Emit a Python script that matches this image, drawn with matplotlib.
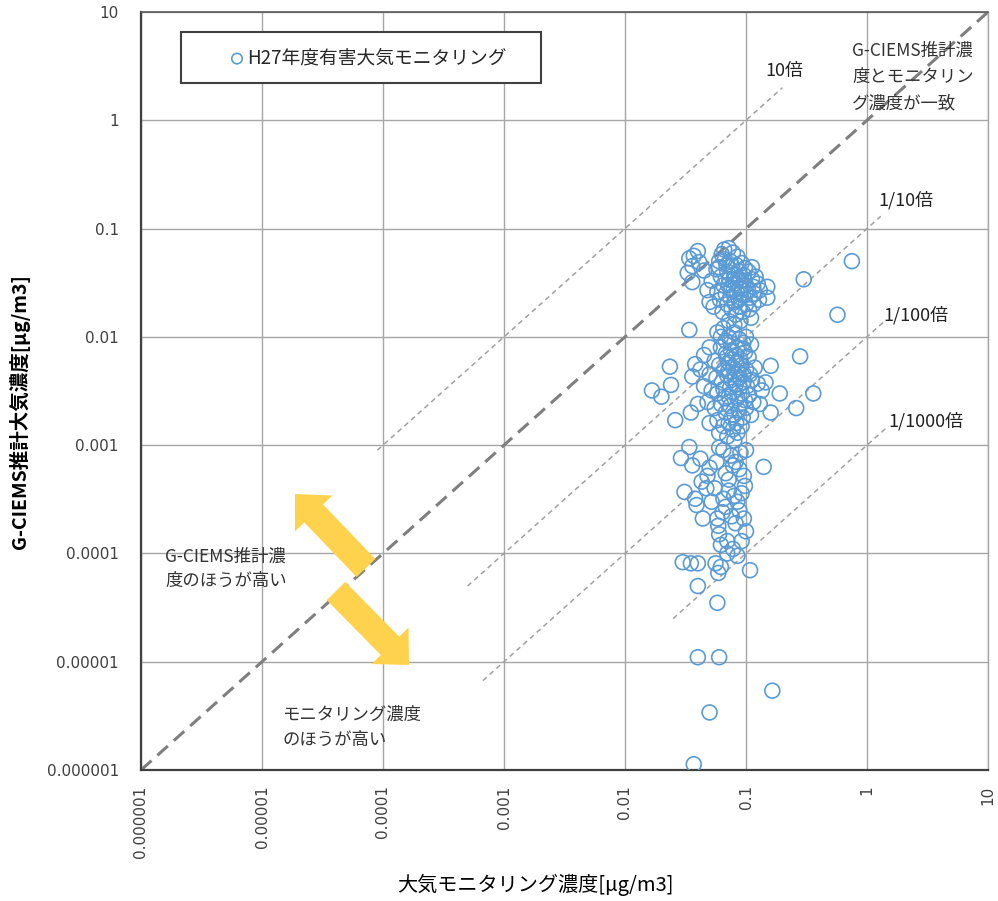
import matplotlib
matplotlib.use('Agg')
import matplotlib.pyplot as plt
from matplotlib.patches import FancyArrow, Rectangle
from matplotlib.transforms import IdentityTransform

# ---------------- data ----------------
top_cluster = [
    (0.034,0.053),(0.037,0.056),(0.040,0.062),(0.036,0.045),(0.033,0.039),(0.036,0.032),
    (0.041,0.049),(0.045,0.041),(0.048,0.027),(0.050,0.021),(0.054,0.019),(0.052,0.033),
    (0.057,0.042),(0.060,0.050),(0.063,0.058),(0.066,0.064),(0.072,0.066),(0.078,0.060),
    (0.085,0.055),(0.092,0.048),(0.098,0.043),(0.105,0.040),(0.062,0.036),(0.065,0.030),
    (0.068,0.025),(0.070,0.040),(0.073,0.034),(0.075,0.028),(0.077,0.045),(0.080,0.038),
    (0.082,0.031),(0.084,0.026),(0.087,0.022),(0.090,0.033),(0.093,0.028),(0.095,0.024),
    (0.100,0.030),(0.104,0.027),(0.108,0.023),(0.112,0.034),(0.115,0.029),(0.118,0.025),
    (0.070,0.020),(0.076,0.018),(0.082,0.016),(0.088,0.019),(0.094,0.017),(0.100,0.020),
    (0.106,0.018),(0.110,0.015),(0.072,0.014),(0.080,0.013),(0.090,0.014),(0.150,0.029),
    (0.150,0.023),(0.112,0.044),(0.30,0.034),(0.57,0.016),(0.75,0.050),(0.034,0.0116),
    (0.060,0.044),(0.067,0.052),(0.074,0.050),(0.083,0.046),(0.088,0.040),(0.096,0.037),
    (0.058,0.026),(0.061,0.022),(0.064,0.017),(0.120,0.036),(0.125,0.031),(0.130,0.027),
    (0.115,0.020),(0.128,0.022),(0.071,0.030),(0.079,0.027),(0.086,0.035),(0.091,0.025),
    (0.074,0.023),(0.081,0.021),(0.097,0.033),(0.069,0.046),(0.089,0.029),(0.078,0.033),
]
middle_cluster = [
    (0.058,0.011),(0.065,0.012),(0.072,0.010),(0.080,0.011),(0.088,0.0095),(0.095,0.0088),
    (0.100,0.0100),(0.110,0.0085),(0.062,0.0080),(0.068,0.0070),(0.075,0.0075),(0.083,0.0068),
    (0.090,0.0062),(0.098,0.0072),(0.105,0.0065),(0.055,0.0060),(0.060,0.0055),(0.066,0.0050),
    (0.072,0.0058),(0.078,0.0052),(0.085,0.0048),(0.092,0.0055),(0.100,0.0050),(0.108,0.0045),
    (0.118,0.0052),(0.050,0.0045),(0.057,0.0042),(0.063,0.0038),(0.070,0.0044),(0.076,0.0040),
    (0.082,0.0036),(0.088,0.0042),(0.095,0.0038),(0.102,0.0035),(0.112,0.0040),(0.125,0.0037),
    (0.135,0.0032),(0.045,0.0035),(0.052,0.0032),(0.058,0.0030),(0.065,0.0033),(0.072,0.0028),
    (0.078,0.0031),(0.085,0.0027),(0.092,0.0030),(0.098,0.0026),(0.106,0.0029),(0.115,0.0025),
    (0.048,0.0025),(0.055,0.0022),(0.062,0.0024),(0.068,0.0020),(0.074,0.0023),(0.080,0.0019),
    (0.087,0.0021),(0.094,0.0018),(0.100,0.0022),(0.110,0.0019),(0.058,0.0017),(0.065,0.0015),
    (0.072,0.0016),(0.078,0.0014),(0.085,0.0013),(0.092,0.0015),(0.070,0.0012),(0.080,0.0011),
    (0.060,0.0013),(0.050,0.0016),(0.28,0.0066),(0.16,0.0054),(0.0235,0.0053),(0.0167,0.0032),
    (0.020,0.0028),(0.024,0.0036),(0.036,0.0043),(0.042,0.0050),(0.026,0.0017),(0.035,0.0020),
    (0.040,0.0024),(0.36,0.0030),(0.26,0.0022),(0.16,0.0020),(0.19,0.0030),(0.145,0.0038),
    (0.13,0.0024),(0.038,0.0056),(0.045,0.0068),(0.050,0.0080),(0.068,0.0092),(0.062,0.0100),
    (0.075,0.0088),(0.085,0.0080),(0.095,0.0078),(0.077,0.0062),(0.083,0.0057),(0.069,0.0065),
    (0.089,0.0034),(0.074,0.0034),(0.081,0.0045),(0.067,0.0027),(0.076,0.0018),(0.090,0.0024),
    (0.083,0.0016),(0.071,0.0048),(0.096,0.0045),
]
lower_cluster = [
    (0.029,7.6e-4),(0.034,9.6e-4),(0.036,6.5e-4),(0.042,7.5e-4),(0.050,6.2e-4),(0.031,3.7e-4),
    (0.038,3.2e-4),(0.039,2.8e-4),(0.044,2.1e-4),(0.043,4.6e-4),(0.047,4.0e-4),(0.055,4.0e-4),
    (0.058,2.1e-4),(0.059,1.8e-4),(0.060,1.5e-4),(0.064,2.4e-4),(0.068,2.7e-4),(0.070,1.3e-4),
    (0.096,2.1e-4),(0.100,1.6e-4),(0.098,4.2e-4),(0.096,5.2e-4),(0.14,6.3e-4),(0.090,8.5e-4),
    (0.072,4.8e-4),(0.068,5.5e-4),(0.030,8.3e-5),(0.035,8.1e-5),(0.040,8.1e-5),(0.056,8.1e-5),
    (0.062,7.5e-5),(0.059,6.6e-5),(0.070,1.0e-4),(0.085,9.5e-5),(0.108,7.0e-5),(0.040,5.0e-5),
    (0.058,3.5e-5),(0.040,1.1e-5),(0.060,1.1e-5),(0.165,5.4e-6),(0.050,3.4e-6),(0.037,1.13e-6),
    (0.065,9.0e-4),(0.075,8.0e-4),(0.082,7.0e-4),(0.088,6.0e-4),(0.078,6.5e-4),(0.072,3.8e-4),
    (0.080,3.4e-4),(0.085,3.0e-4),(0.092,3.6e-4),(0.076,2.2e-4),(0.082,1.9e-4),(0.088,2.5e-4),
    (0.065,3.2e-4),(0.052,3.0e-4),(0.048,5.2e-4),(0.062,1.2e-4),(0.078,1.1e-4),(0.092,1.3e-4),
    (0.100,9.0e-4),(0.057,7.0e-4),(0.060,9.5e-4),
]

tick_values = [1e-6, 1e-5, 1e-4, 1e-3, 1e-2, 1e-1, 1, 10]
tick_labels = ['0.000001', '0.00001', '0.0001', '0.001', '0.01', '0.1', '1', '10']

ratio_factors = [10, 0.1, 0.01, 0.001]
ratio_x_start = [9e-5, 5e-4, 6.7e-4, 0.025]
ratio_x_end = [0.2, 1.3, 1.36, 1.5]
ratio_labels = ['10倍', '1/10倍', '1/100倍', '1/1000倍']

series_label = 'H27年度有害大気モニタリング'

# ---------------- figure ----------------
JP = ['Noto Sans CJK JP', 'DejaVu Sans']
W, H = 998, 901
fig = plt.figure(figsize=(W/100, H/100), dpi=100)
fig.patch.set_facecolor('white')
ax = fig.add_axes([141/W, (H-770)/H, 847/W, 758/H])
ax.set_xscale('log')
ax.set_yscale('log')

pts = top_cluster + middle_cluster + lower_cluster
xs = [p[0] for p in pts]
ys = [p[1] for p in pts]

ax.grid(True, which='major', color='#a6a6a6', linewidth=1.0, zorder=0)
ax.set_axisbelow(True)

# 1:1 line
ax.plot([1e-6, 10], [1e-6, 10], color='#7f7f7f', linewidth=2.2,
        dashes=(4.6, 2.6), zorder=2)
# ratio lines
for f, x0, x1 in zip(ratio_factors, ratio_x_start, ratio_x_end):
    ax.plot([x0, x1], [x0*f, x1*f], color='#a0a0a0', linewidth=1.1,
            dashes=(3.3, 2.6), zorder=2)

sc = ax.scatter(xs, ys, s=115, facecolors='none', edgecolors='#5B9BD5',
                linewidths=1.2, zorder=3, label=series_label)

ax.set_xlim(1e-6, 10)
ax.set_ylim(1e-6, 10)
ax.set_xticks(tick_values)
ax.set_xticklabels(tick_labels, rotation=90, fontsize=11, color='#404040',
                   family='DejaVu Sans')
ax.set_yticks(tick_values)
ax.set_yticklabels(tick_labels, fontsize=11, color='#404040', family='DejaVu Sans')
ax.minorticks_off()
ax.tick_params(axis='both', which='both', length=0)
ax.tick_params(axis='y', pad=16)
ax.tick_params(axis='x', pad=11)

for side in ['left', 'bottom']:
    ax.spines[side].set_color('#404040')
    ax.spines[side].set_linewidth(1.6)
ax.spines['top'].set_color('#595959')
ax.spines['top'].set_linewidth(1.2)
ax.spines['right'].set_color('#a6a6a6')
ax.spines['right'].set_linewidth(1.0)

ax.set_xlabel('大気モニタリング濃度[μg/m3]', family=JP, fontsize=14.5, color='#000000')
ax.xaxis.set_label_coords((535-141)/847, (770-874)/758)
ax.set_ylabel('G-CIEMS推計大気濃度[μg/m3]', family=JP, fontsize=14,
              fontweight='bold', color='#000000')
ax.yaxis.set_label_coords((30-141)/847, (770-412)/758)

# legend box + legend
rect = Rectangle(((181-141)/847, (770-83)/758), 360/847, 51/758,
                 transform=ax.transAxes, facecolor='white', edgecolor='#404040',
                 linewidth=1.5, zorder=4)
ax.add_patch(rect)
leg = ax.legend(loc='center left', bbox_to_anchor=((222-141)/847, (770-58)/758),
                frameon=False, borderpad=0, handlelength=0.6, handletextpad=0.25,
                markerscale=0.7, prop={'family': JP, 'size': 13.5})
for t in leg.get_texts():
    t.set_color('#262626')
leg.set_zorder(5)

# text annotations (pixel positions converted to axes fraction)
def axpos(px, py):
    return ((px-141)/847, (770-py)/758)

ann_kw = dict(transform=ax.transAxes, family=JP, color='#333333', zorder=6)
ratio_label_pos = [(765, 71), (878, 200), (883, 315), (888, 421)]
for lab, (px, py) in zip(ratio_labels, ratio_label_pos):
    ax.text(*axpos(px, py), lab, ha='left', va='center', fontsize=13,
            transform=ax.transAxes, family=JP, color='#222222', zorder=6)

ax.text(*axpos(852, 42), 'G-CIEMS推計濃\n度とモニタリン\nグ濃度が一致', ha='left', va='top',
        fontsize=12.5, linespacing=1.6, **ann_kw)
ax.text(*axpos(165, 548), 'G-CIEMS推計濃\n度のほうが高い', ha='left', va='top',
        fontsize=12.5, linespacing=1.4, **ann_kw)
ax.text(*axpos(282, 706), 'モニタリング濃度\nのほうが高い', ha='left', va='top',
        fontsize=12.5, linespacing=1.5, **ann_kw)

# yellow arrows (pixel coordinates, origin at bottom-left)
arrow_color = '#FFD24D'
for (tx, ty), (hx, hy) in [((366, 568), (295, 494)), ((336, 591), (409, 665))]:
    a = FancyArrow(tx, H-ty, hx-tx, -(hy-ty), width=26, head_width=52, head_length=27,
                   length_includes_head=True, color=arrow_color, linewidth=0,
                   transform=IdentityTransform(), zorder=3)
    fig.add_artist(a)

fig.savefig('out.png', dpi=100)
